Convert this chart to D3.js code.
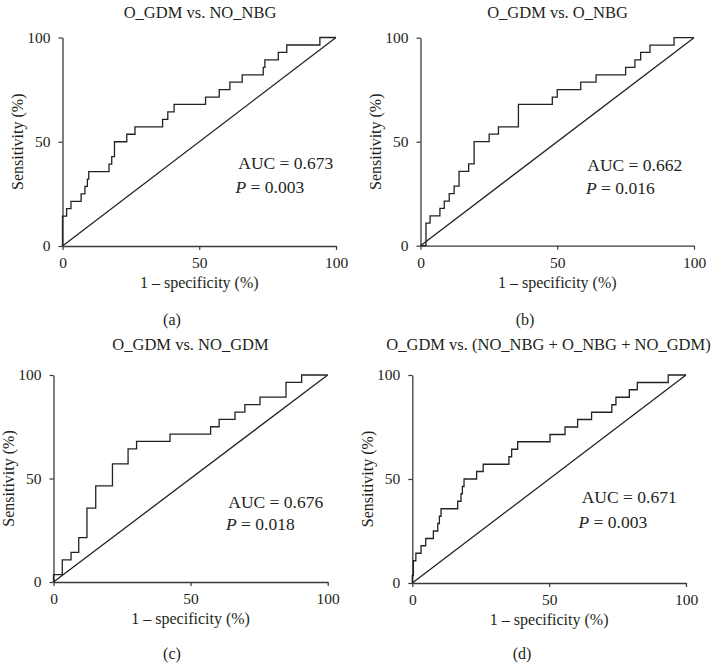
<!DOCTYPE html>
<html>
<head>
<meta charset="utf-8">
<script src="https://cdn.jsdelivr.net/npm/d3@7"></script>
<style>
  html, body { margin: 0; padding: 0; background: #fff; }
  svg { display: block; }
  text { font-family: "Liberation Serif", "DejaVu Serif", serif; fill: #231f20; }
</style>
</head>
<body>
<svg id="chart" width="711" height="664"></svg>
<script>
// ---- data ----
const titles = ["O_GDM vs. NO_NBG", "O_GDM vs. O_NBG", "O_GDM vs. NO_GDM", "O_GDM vs. (NO_NBG + O_NBG + NO_GDM)"];
const subLabels = ["(a)", "(b)", "(c)", "(d)"];
const aucValues = ["0.673", "0.662", "0.676", "0.671"];
const pValues = ["0.003", "0.016", "0.018", "0.003"];
const tickValues = [0, 50, 100];
const xAxisTitle = "1 \u2013 specificity (%)";
const yAxisTitle = "Sensitivity (%)";

// ROC corner points (1 - specificity %, sensitivity %)
const fprA = [0, 0, 1.5, 3.1, 6.8, 8.2, 9.1, 9.6, 17.0, 18.0, 19.0, 23.5, 26.5, 36.6, 38.5, 40.8, 52.3, 57.3, 61.2, 65.7, 73.4, 74.0, 78.9, 82.0, 94.1, 100];
const tprA = [0, 14.3, 17.9, 21.4, 25.0, 28.6, 32.1, 35.7, 39.3, 42.9, 50.0, 53.6, 57.1, 60.7, 64.3, 67.9, 71.4, 75.0, 78.6, 82.1, 85.7, 89.3, 92.9, 96.4, 100, 100];

const fprB = [0, 2.0, 3.5, 7.1, 8.7, 10.5, 12.3, 14.1, 17.6, 19.6, 25.1, 28.5, 35.8, 48.2, 50.0, 58.6, 64.2, 75.0, 78.4, 80.5, 83.9, 92.7, 100];
const tprB = [0, 10.9, 14.3, 17.9, 21.4, 25.0, 28.6, 35.7, 39.3, 50.0, 53.6, 57.1, 67.9, 71.4, 75.0, 78.6, 82.1, 85.7, 89.3, 92.9, 96.4, 100, 100];

const fprC = [0, 0, 3.2, 6.4, 9.2, 12.2, 15.4, 21.5, 27.2, 30.3, 42.5, 57.3, 60.4, 66.2, 69.8, 75.3, 84.8, 90.5, 100];
const tprC = [0, 3.6, 10.7, 14.3, 21.4, 35.7, 46.4, 57.1, 64.3, 67.9, 71.4, 75.0, 78.6, 82.1, 85.7, 89.3, 96.4, 100, 100];

const fprD = [0, 0, 0.4, 1.3, 3.2, 4.9, 7.7, 9.3, 9.9, 10.5, 16.6, 17.8, 18.3, 18.9, 23.5, 25.9, 35.3, 36.3, 38.5, 50.3, 55.8, 60.4, 65.5, 72.9, 74.4, 79.3, 82.2, 93.5, 100];
const tprD = [0, 3.6, 10.7, 14.3, 17.9, 21.4, 25.0, 28.6, 32.1, 35.7, 39.3, 42.9, 46.4, 50.0, 53.6, 57.1, 60.7, 64.3, 67.9, 71.4, 75.0, 78.6, 82.1, 85.7, 89.3, 92.9, 96.4, 100, 100];

const fprs = [fprA, fprB, fprC, fprD];
const tprs = [tprA, tprB, tprC, tprD];

// ---- layout ----
const layout = [
  { x0: 62.5, x1: 336, yT: 37.5, yB: 246, titleX: 200, titleY: 17.5, subX: 172, subY: 325,
    aucX: 238.3, aucY: 169.3, pX: 235.5, pY: 193 },
  { x0: 420.5, x1: 694, yT: 37.7, yB: 245.7, titleX: 557.5, titleY: 18, subX: 525, subY: 325,
    aucX: 587.3, aucY: 170.5, pX: 586, pY: 193.5 },
  { x0: 53.5, x1: 327.7, yT: 375, yB: 582, titleX: 190.5, titleY: 350, subX: 172, subY: 659,
    aucX: 228.3, aucY: 508.3, pX: 226, pY: 530 },
  { x0: 412.3, x1: 686, yT: 375, yB: 583, titleX: 548.5, titleY: 350, subX: 522, subY: 659,
    aucX: 581.7, aucY: 502.7, pX: 578.5, pY: 527.5 }
];

const svg = d3.select("#chart");
const axisColor = "#3a3a3a";
const lineColor = "#222";

layout.forEach((L, i) => {
  const x = d3.scaleLinear().domain([0, 100]).range([L.x0, L.x1]);
  const y = d3.scaleLinear().domain([0, 100]).range([L.yB, L.yT]);
  const g = svg.append("g");

  // axes
  const xAxis = g.append("g").attr("transform", `translate(0,${L.yB})`)
    .call(d3.axisBottom(x).tickValues(tickValues).tickSize(4).tickSizeOuter(0).tickPadding(7));
  const yAxis = g.append("g").attr("transform", `translate(${L.x0},0)`)
    .call(d3.axisLeft(y).tickValues(tickValues).tickSize(4).tickSizeOuter(0).tickPadding(8));
  [xAxis, yAxis].forEach(a => {
    a.selectAll("path.domain").attr("stroke", axisColor).attr("stroke-width", 1.3);
    a.selectAll(".tick line").attr("stroke", axisColor).attr("stroke-width", 1.2);
    a.selectAll(".tick text").attr("font-family", "Liberation Serif").attr("font-size", 15.5).attr("fill", "#231f20");
  });

  // diagonal reference line
  g.append("line")
    .attr("x1", x(0)).attr("y1", y(0)).attr("x2", x(100)).attr("y2", y(100))
    .attr("stroke", lineColor).attr("stroke-width", 1.3);

  // ROC step curve
  const pts = fprs[i].map((f, k) => [f, tprs[i][k]]);
  const line = d3.line().x(d => x(d[0])).y(d => y(d[1])).curve(d3.curveStepAfter);
  g.append("path").attr("d", line(pts))
    .attr("fill", "none").attr("stroke", lineColor).attr("stroke-width", 1.3);

  // titles
  g.append("text").attr("x", L.titleX).attr("y", L.titleY).attr("text-anchor", "middle")
    .attr("font-size", 16.5).text(titles[i]);
  g.append("text").attr("x", (L.x0 + L.x1) / 2).attr("y", L.yB + 42).attr("text-anchor", "middle")
    .attr("font-size", 16).text(xAxisTitle);
  g.append("text")
    .attr("transform", `translate(${L.x0 - 39.5},${(L.yT + L.yB) / 2}) rotate(-90)`)
    .attr("text-anchor", "middle").attr("font-size", 16).text(yAxisTitle);
  g.append("text").attr("x", L.subX).attr("y", L.subY).attr("text-anchor", "middle")
    .attr("font-size", 16).text(subLabels[i]);

  // annotations
  g.append("text").attr("x", L.aucX).attr("y", L.aucY).attr("font-size", 17.5)
    .text("AUC = " + aucValues[i]);
  const pt = g.append("text").attr("x", L.pX).attr("y", L.pY).attr("font-size", 17.5);
  pt.append("tspan").attr("font-style", "italic").text("P");
  pt.append("tspan").text(" = " + pValues[i]);
});
</script>
</body>
</html>
